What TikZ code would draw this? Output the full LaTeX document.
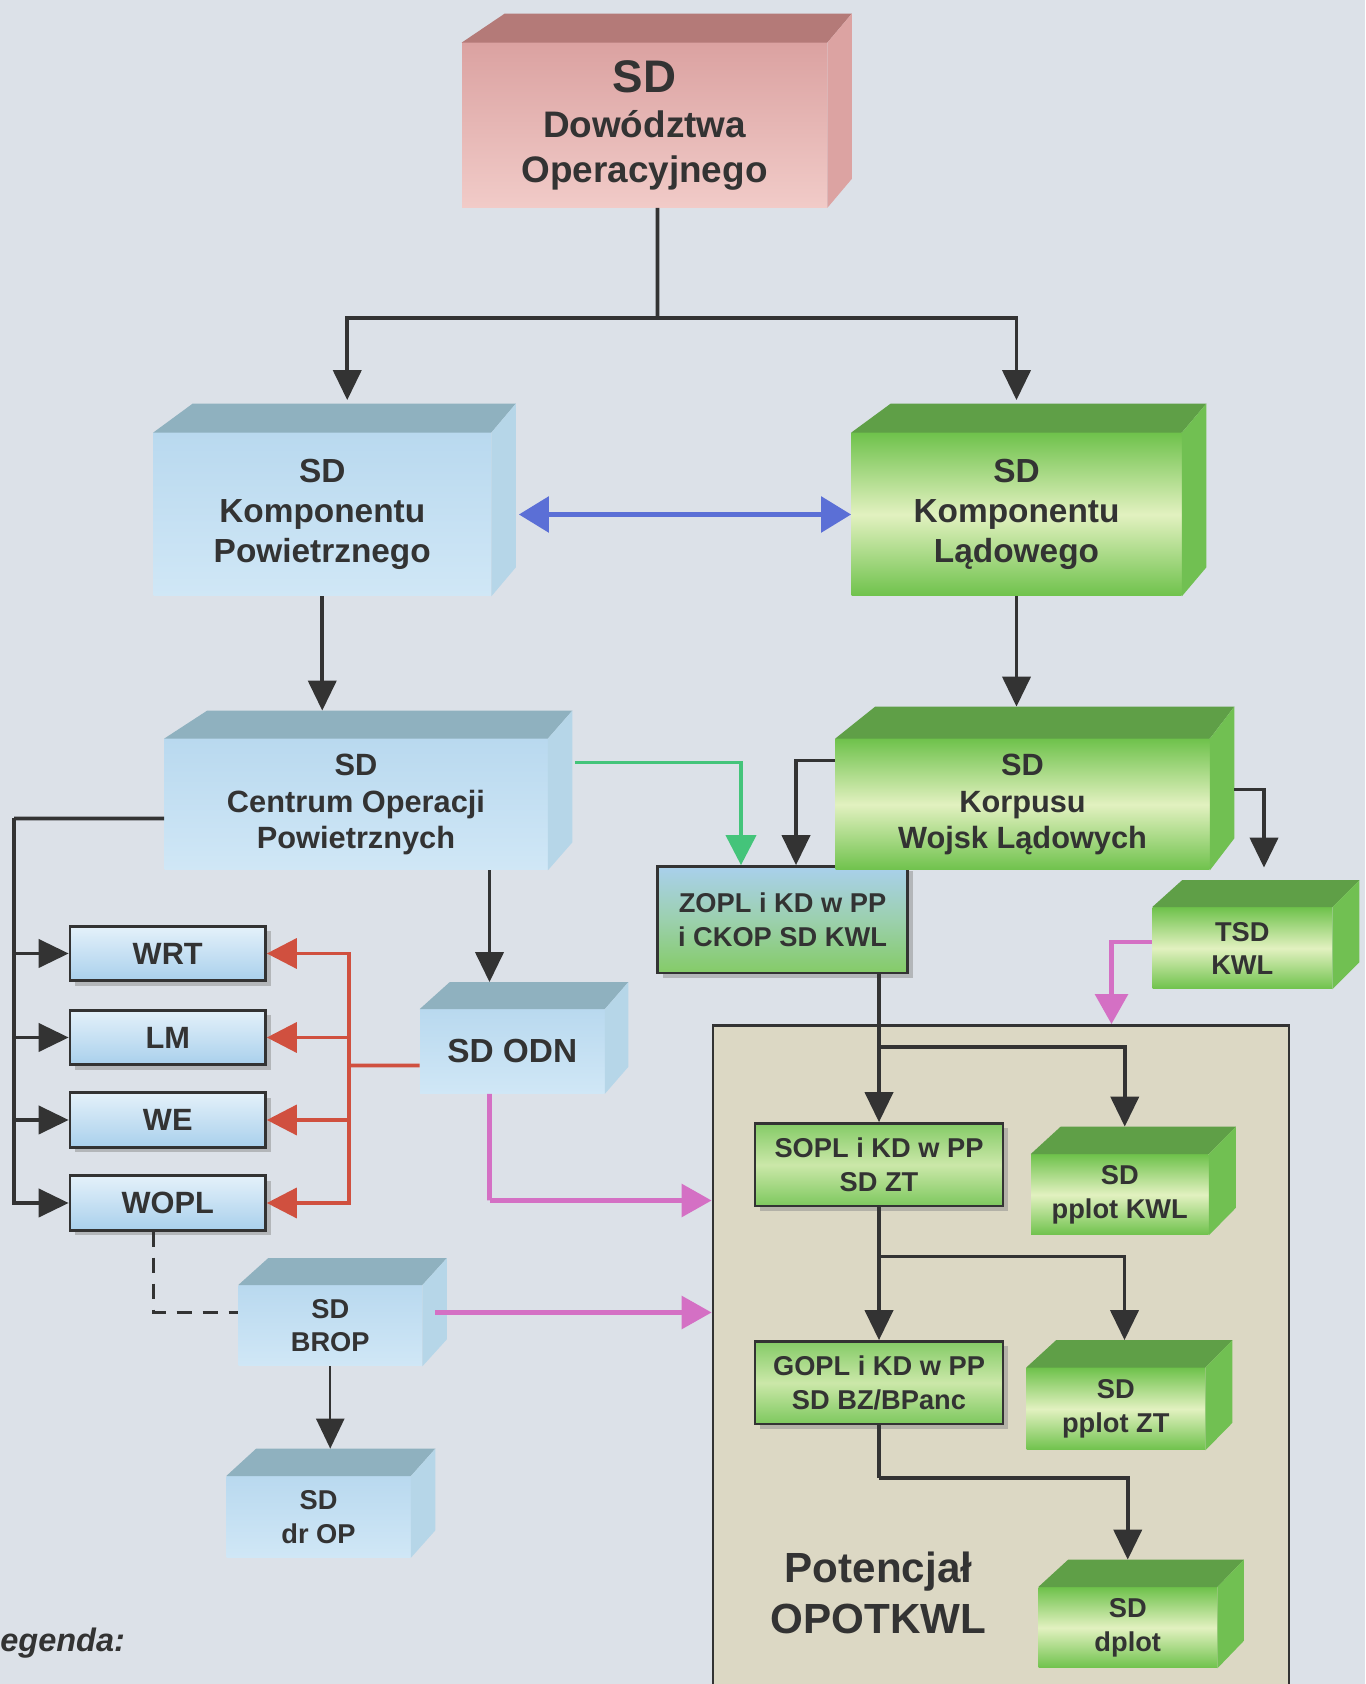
\documentclass[tikz,border=0pt]{standalone}
\usepackage{fontspec}
\setmainfont{Liberation Sans}
\usetikzlibrary{arrows.meta, calc, shadows}

\definecolor{bgcol}{HTML}{DCE1E8}
\definecolor{txtcol}{HTML}{333333}
\definecolor{linecol}{HTML}{333333}
\definecolor{redFront}{HTML}{DBA2A1}
\definecolor{redFrontB}{HTML}{F1CBC8}
\definecolor{redTop}{HTML}{B47A78}
\definecolor{redSide}{HTML}{DCA3A2}
\definecolor{blueFront}{HTML}{B9D9EF}
\definecolor{blueFrontB}{HTML}{D0E7F6}
\definecolor{blueTop}{HTML}{8FB1BF}
\definecolor{blueSide}{HTML}{B6D6E8}
\definecolor{boxTop}{HTML}{E4F1FA}
\definecolor{boxBot}{HTML}{A9D0EC}
\definecolor{greenFront}{HTML}{6FC24C}
\definecolor{greenMid}{HTML}{E2F1C0}
\definecolor{greenTop}{HTML}{5F9F47}
\definecolor{greenSide}{HTML}{71C052}
\definecolor{potFill}{HTML}{DCD8C4}
\definecolor{redArrow}{HTML}{D0503F}
\definecolor{pinkArrow}{HTML}{D470C4}
\definecolor{greenArrow}{HTML}{44C47A}
\definecolor{blueArrow}{HTML}{5B6FD6}

% top and side face of a box drawn behind a front node
\newcommand{\boxfaces}[6]{%
  \fill[#2] (#1.north west) -- ++(#4,#6) -- ($(#1.north east)+(#5,#6)$) -- (#1.north east) -- cycle;
  \fill[#3] (#1.north east) -- ++(#5,#6) -- ($(#1.south east)+(#5,#6)$) -- (#1.south east) -- cycle;
  \coordinate (#1-top) at ($(#1.north)+(0,#6)$);
}

\tikzset{
  face/.style={inner sep=0pt, align=center, text=txtcol},
  redcube/.style={face, top color=redFront, bottom color=redFrontB},
  bluecube/.style={face, top color=blueFront, bottom color=blueFrontB},
  greencube/.style={face, top color=greenFront, bottom color=greenFront, middle color=greenMid},
  flatbox/.style={face, draw=linecol, line width=1.5pt,
    drop shadow={shadow xshift=1mm, shadow yshift=-1mm, fill=black!45, opacity=0.5}},
  bluebox/.style={flatbox, top color=boxTop, bottom color=boxBot},
  greenbox/.style={flatbox, top color=greenFront!85!white, bottom color=greenFront!90!white, middle color=greenMid!80!greenFront},
  mixbox/.style={flatbox, top color=boxBot, bottom color=greenFront!85!white, middle color=blueFront!60!greenFront},
  bigtxt/.style={font=\fontsize{19}{22.7}\selectfont\bfseries},
  midtxt/.style={font=\fontsize{17.5}{20.7}\selectfont\bfseries},
  smalltxt/.style={font=\fontsize{15.5}{19}\selectfont\bfseries},
  conn/.style={->, line width=2.2pt, draw=linecol},
  rconn/.style={->, line width=2pt, draw=redArrow, >={Triangle[length=6mm,width=6mm]}},
  pconn/.style={->, line width=2.6pt, draw=pinkArrow, >={Triangle[length=6mm,width=6.5mm]}},
  gconn/.style={->, line width=2.2pt, draw=greenArrow, >={Triangle[length=6mm,width=6mm]}},
  bconn/.style={<->, line width=3.2pt, draw=blueArrow, >={Triangle[length=6mm,width=7mm]}},
  dconn/.style={line width=2.2pt, draw=linecol, dash pattern=on 3mm off 2.2mm}
}

\begin{document}
\begin{tikzpicture}[>={Triangle[length=6mm,width=5.6mm]}]

% --- Background ---
\fill[bgcol] (0,0) rectangle (27.3,33.68);
\useasboundingbox (0,0) rectangle (27.3,33.68);

% --- Potential frame ---
\node[draw=linecol, line width=1.6pt, fill=potFill, minimum width=11.52cm, minimum height=13.67cm] (pot) at (20.02,6.335) {};
\node[face, font=\fontsize{24}{28.6}\selectfont\bfseries] (potlabel) at (17.57,1.82) {Potencjał\\OPOTKWL};

% --- Top level ---
\node[redcube, minimum width=7.30cm, minimum height=3.29cm, font=\fontsize{21}{25.5}\selectfont\bfseries] (DO) at (12.89,31.175)
    {{\fontsize{26}{30}\selectfont SD}\\Dowództwa\\Operacyjnego};
\boxfaces{DO}{redTop}{redSide}{0.86}{0.49}{0.58}

% --- Components ---
\node[bluecube, bigtxt, minimum width=6.75cm, minimum height=3.26cm] (KP) at (6.445,23.39) {SD\\Komponentu\\Powietrznego};
\boxfaces{KP}{blueTop}{blueSide}{0.79}{0.49}{0.58}
\node[greencube, bigtxt, minimum width=6.60cm, minimum height=3.26cm] (KL) at (20.33,23.39) {SD\\Komponentu\\Lądowego};
\boxfaces{KL}{greenTop}{greenSide}{0.79}{0.49}{0.58}

% --- Second level ---
\node[mixbox, smalltxt, minimum width=5.0cm, minimum height=2.13cm] (ZOPL) at (15.65,15.285) {ZOPL i KD w PP\\i CKOP SD KWL};
\node[bluecube, midtxt, minimum width=7.66cm, minimum height=2.62cm] (COP) at (7.12,17.59) {SD\\Centrum Operacji\\Powietrznych};
\boxfaces{COP}{blueTop}{blueSide}{0.86}{0.49}{0.56}
\node[greencube, midtxt, minimum width=7.48cm, minimum height=2.62cm] (KWL) at (20.45,17.59) {SD\\Korpusu\\Wojsk Lądowych};
\boxfaces{KWL}{greenTop}{greenSide}{0.80}{0.49}{0.64}
\node[greencube, smalltxt, minimum width=3.59cm, minimum height=1.63cm] (TSD) at (24.845,14.715) {TSD\\KWL};
\boxfaces{TSD}{greenTop}{greenSide}{0.60}{0.54}{0.54}

% --- Air defence elements ---
\node[bluecube, bigtxt, minimum width=3.69cm, minimum height=1.68cm] (ODN) at (10.245,12.65) {SD ODN};
\boxfaces{ODN}{blueTop}{blueSide}{0.60}{0.47}{0.54}
\node[bluebox, midtxt, minimum width=3.91cm, minimum height=1.09cm] (WRT) at (3.355,14.61) {WRT};
\node[bluebox, midtxt, minimum width=3.91cm, minimum height=1.09cm] (LM) at (3.355,12.93) {LM};
\node[bluebox, midtxt, minimum width=3.91cm, minimum height=1.09cm] (WE) at (3.355,11.28) {WE};
\node[bluebox, midtxt, minimum width=3.91cm, minimum height=1.09cm] (WOPL) at (3.355,9.62) {WOPL};
\node[bluecube, smalltxt, minimum width=3.67cm, minimum height=1.61cm] (BROP) at (6.605,7.165) {SD\\BROP};
\boxfaces{BROP}{blueTop}{blueSide}{0.60}{0.49}{0.54}
\node[bluecube, smalltxt, minimum width=3.68cm, minimum height=1.62cm] (drOP) at (6.37,3.34) {SD\\dr OP};
\boxfaces{drOP}{blueTop}{blueSide}{0.60}{0.49}{0.55}

% --- Land component chain ---
\node[greenbox, smalltxt, minimum width=4.96cm, minimum height=1.65cm] (SOPL) at (17.58,10.385) {SOPL i KD w PP\\SD ZT};
\node[greenbox, smalltxt, minimum width=4.96cm, minimum height=1.65cm] (GOPL) at (17.58,6.025) {GOPL i KD w PP\\SD BZ/BPanc};
\node[greencube, smalltxt, minimum width=3.55cm, minimum height=1.61cm] (pplotKWL) at (22.395,9.785) {SD\\pplot KWL};
\boxfaces{pplotKWL}{greenTop}{greenSide}{0.60}{0.54}{0.55}
\node[greencube, smalltxt, minimum width=3.57cm, minimum height=1.64cm] (pplotZT) at (22.315,5.50) {SD\\pplot ZT};
\boxfaces{pplotZT}{greenTop}{greenSide}{0.60}{0.54}{0.55}
\node[greencube, smalltxt, minimum width=3.57cm, minimum height=1.61cm] (dplot) at (22.555,1.125) {SD\\dplot};
\boxfaces{dplot}{greenTop}{greenSide}{0.60}{0.53}{0.55}

% --- Legend ---
\node[anchor=west, inner sep=0pt, text=txtcol, font=\fontsize{18.5}{22}\selectfont\bfseries\itshape] (legend) at (0,0.82) {egenda:};

% --- Helper points ---
\coordinate (topfork) at (13.15,27.32);
\coordinate (fork1) at (17.58,12.74);
\coordinate (fork2) at (17.58,8.55);
\coordinate (bend3) at (17.58,4.12);
\coordinate (rfork) at (6.98,12.37);
\coordinate (lfork) at (0.28,17.31);
\coordinate (odnbend) at (9.79,9.67);
\coordinate (odnin) at ([xshift=-4.55mm]ODN-top);
\coordinate (bropout) at ([shift={(0.26,0.265)}]BROP.east);

% --- Command lines ---
\draw[conn, -] ([xshift=2.6mm]DO.south) -- (topfork);
\draw[conn] (topfork) -| ([shift={(0.5,0.65)}]KP.north);
\draw[conn] (topfork) -| ([yshift=6.5mm]KL.north);
\draw[bconn] ([xshift=5.5mm]KP.east) -- (KL.west);
\draw[conn] (KP.south) -- (KP.south |- COP-top);
\draw[conn] (KL.south) -- (KL.south |- KWL-top);
\draw[conn] (odnin |- COP.south) -- (odnin);
\draw[gconn] ([shift={(0.54,0.84)}]COP.east) -| ([xshift=-8.3mm]ZOPL.north);
\draw[conn] ([yshift=8.8mm]KWL.west) -| ([xshift=2.7mm]ZOPL.north);
\draw[conn] ([shift={(0.49,0.30)}]KWL.east) -| ([shift={(0.435,0.25)}]TSD-top);
\draw[pconn] ([yshift=1.25mm]TSD.west) -| ([xshift=22.1mm]pot.north);

% --- Inside the frame ---
\draw[conn] (SOPL.north |- ZOPL.south) -- (SOPL.north);
\draw[conn] (fork1) -| ([xshift=1mm]pplotKWL-top);
\draw[conn] (SOPL.south) -- (GOPL.north);
\draw[conn] (fork2) -| ([xshift=1.75mm]pplotZT-top);
\draw[conn, -] (GOPL.south) -- (bend3);
\draw[conn] (bend3) -| (dplot-top);

% --- Air defence links ---
\draw[rconn, -] ([yshift=-2.8mm]ODN.west) -- (rfork);
\draw[rconn] (rfork) |- (WRT.east);
\draw[rconn] (rfork) |- (LM.east);
\draw[rconn] (rfork) |- (WE.east);
\draw[rconn] (rfork) |- (WOPL.east);
\draw[conn, -] ([yshift=-2.8mm]COP.west) -- (lfork);
\draw[conn] (lfork) |- (WRT.west);
\draw[conn] (lfork) |- (LM.west);
\draw[conn] (lfork) |- (WE.west);
\draw[conn] (lfork) |- (WOPL.west);
\draw[pconn, -] ([xshift=-4.55mm]ODN.south) -- (odnbend);
\draw[pconn] (odnbend) -- (odnbend -| pot.west);
\draw[pconn] (bropout) -- (bropout -| pot.west);
\draw[dconn] ([xshift=-2.85mm]WOPL.south) |- ([yshift=2.65mm]BROP.west);
\draw[conn, line width=1.4pt] (BROP.south) -- (BROP.south |- drOP-top);

\end{tikzpicture}
\end{document}
